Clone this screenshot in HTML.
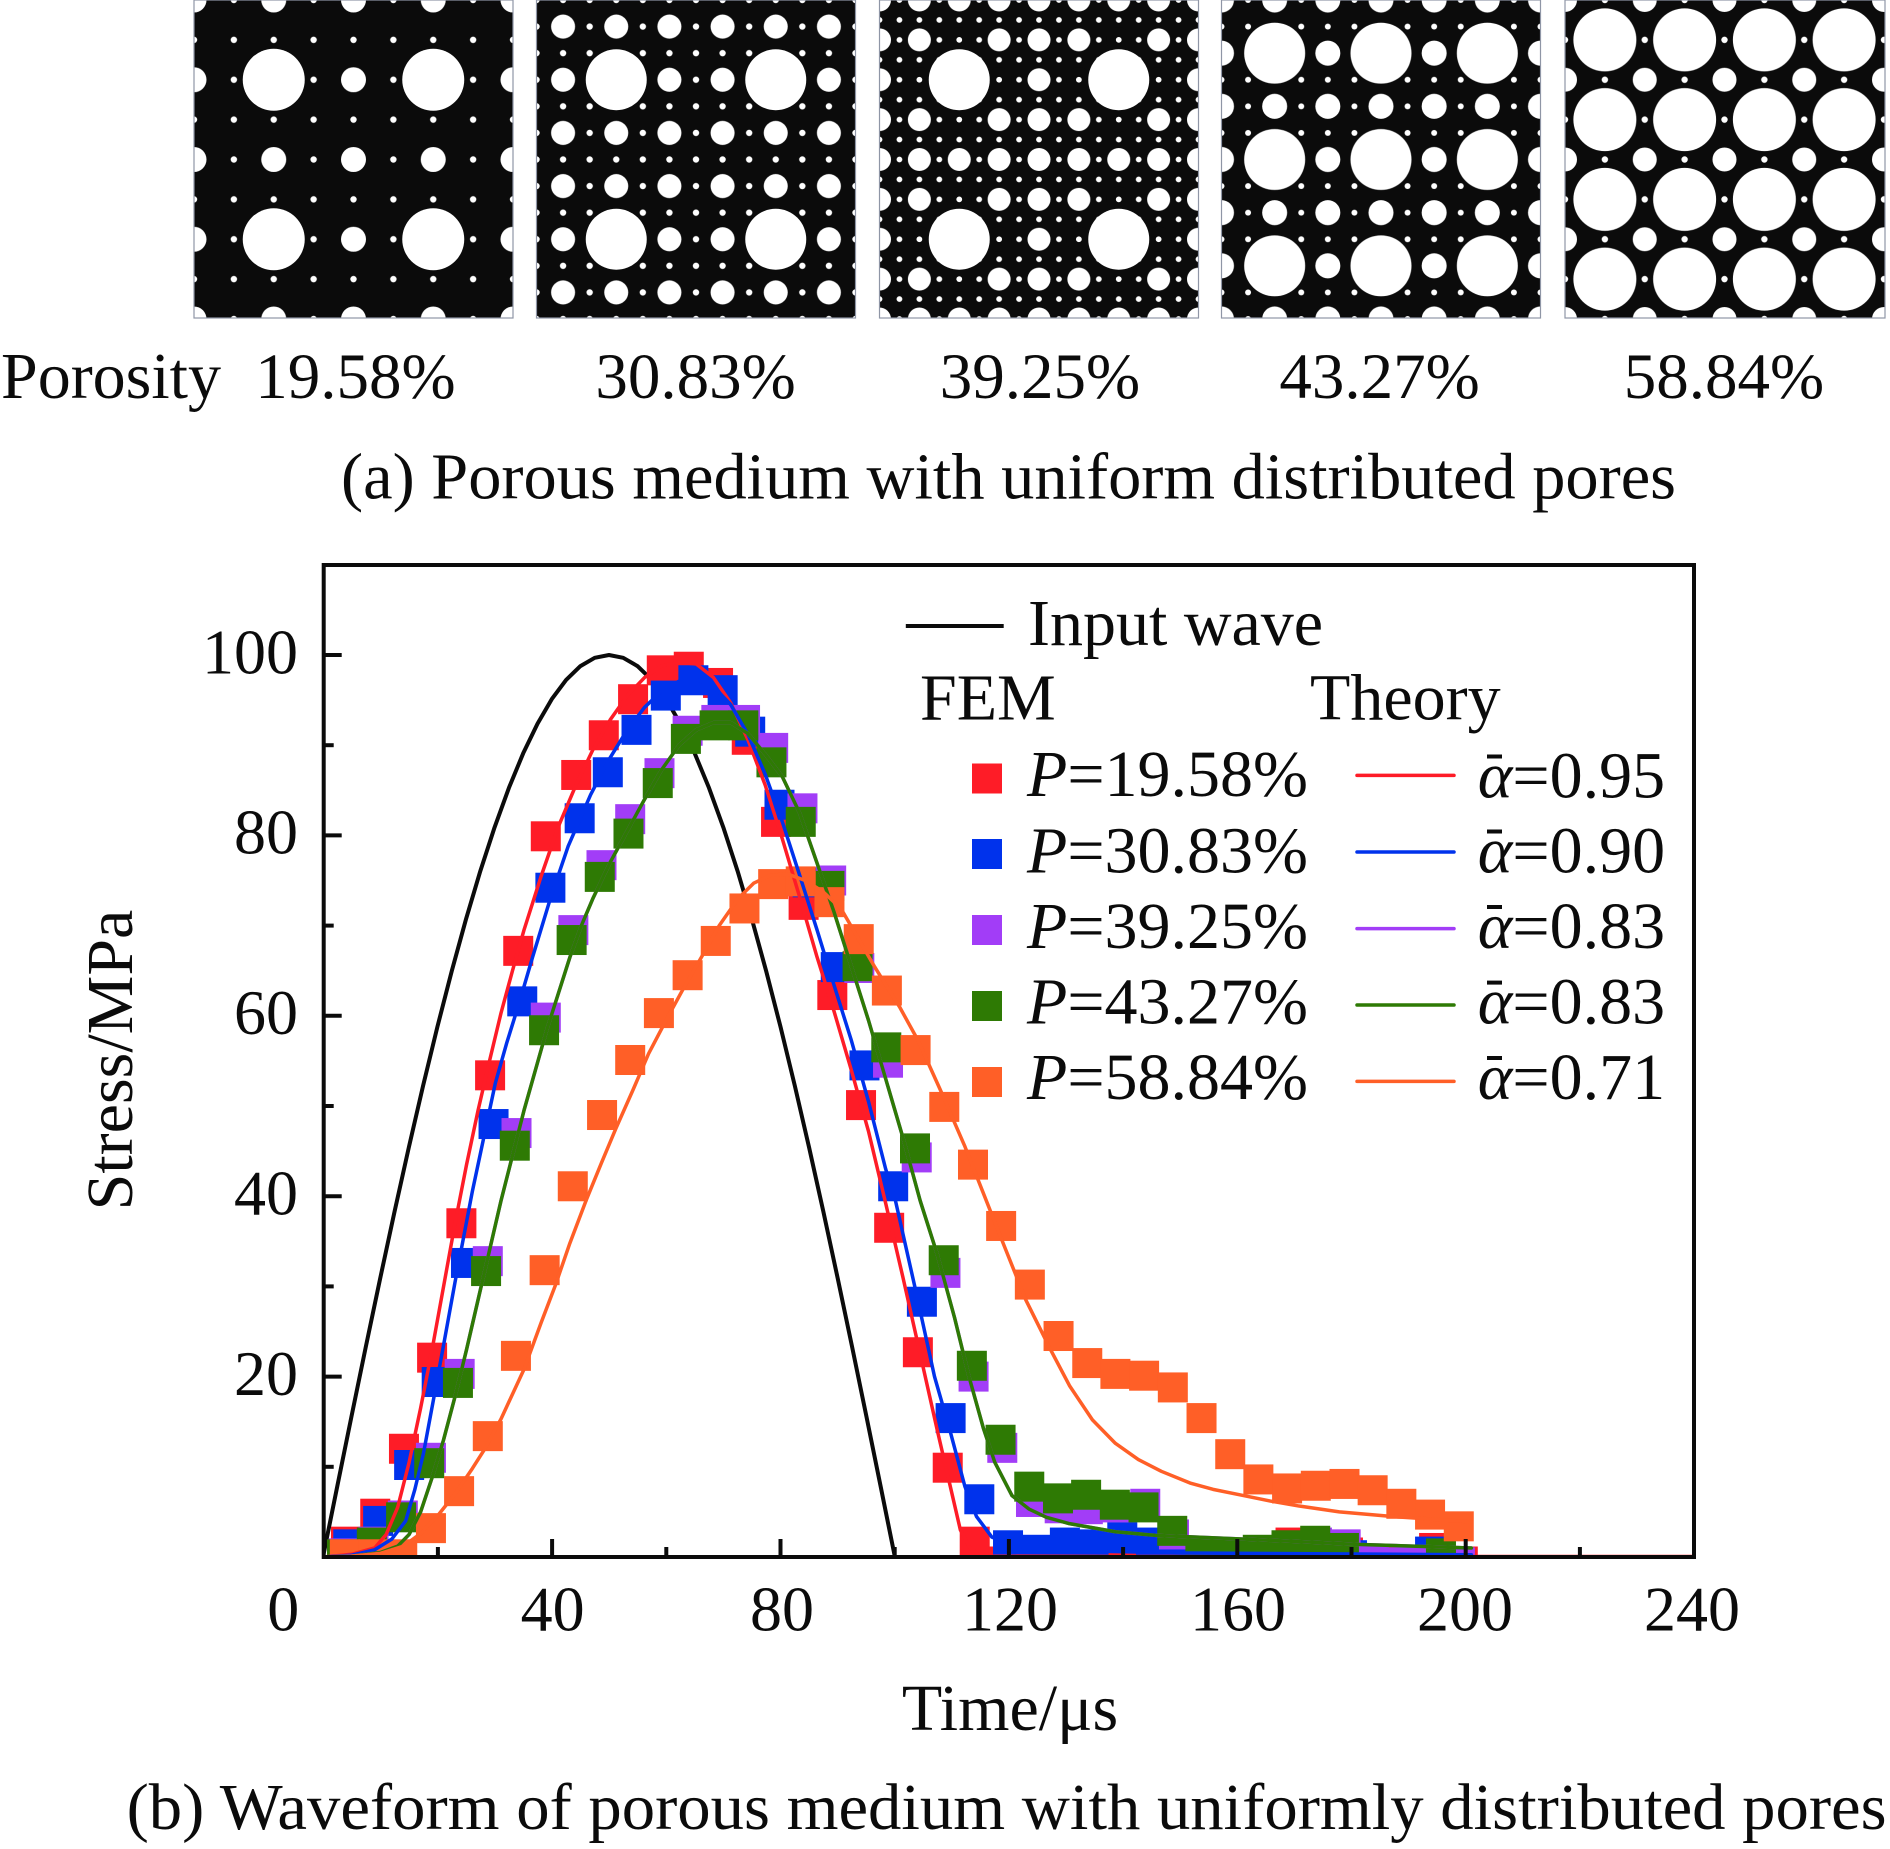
<!DOCTYPE html>
<html>
<head>
<meta charset="utf-8">
<style>
html,body{margin:0;padding:0;background:#fff;}
svg{display:block;}
text{font-family:"Liberation Serif","Times New Roman",serif;fill:#0b0b0b;}
</style>
</head>
<body>
<svg xmlns="http://www.w3.org/2000/svg" width="1890" height="1849" viewBox="0 0 1890 1849">
<defs>
  <pattern id="d1" patternUnits="userSpaceOnUse" x="174.0625" y="-19.9375" width="39.875" height="39.875"><circle cx="19.9375" cy="19.9375" r="3.2" fill="#fff"/></pattern>
  <pattern id="m1" patternUnits="userSpaceOnUse" x="154.125" y="-39.875" width="79.75" height="79.75"><circle cx="39.875" cy="39.875" r="12.5" fill="#fff"/></pattern>
  <pattern id="d2" patternUnits="userSpaceOnUse" x="523.21" y="-13.29" width="26.583" height="26.583"><circle cx="13.29" cy="13.29" r="3.2" fill="#fff"/></pattern>
  <pattern id="m2" patternUnits="userSpaceOnUse" x="536.5" y="0" width="53.167" height="53.167"><circle cx="26.583" cy="26.583" r="12" fill="#fff"/></pattern>
  <pattern id="d3" patternUnits="userSpaceOnUse" x="869.53" y="-9.969" width="19.9375" height="19.9375"><circle cx="9.969" cy="9.969" r="2.9" fill="#fff"/></pattern>
  <pattern id="m3" patternUnits="userSpaceOnUse" x="859.5625" y="-19.9375" width="39.875" height="39.875"><circle cx="19.9375" cy="19.9375" r="11.5" fill="#fff"/></pattern>
  <pattern id="d4" patternUnits="userSpaceOnUse" x="1208.21" y="-13.29" width="26.583" height="26.583"><circle cx="13.29" cy="13.29" r="3" fill="#fff"/></pattern>
  <pattern id="m4" patternUnits="userSpaceOnUse" x="1194.917" y="-26.583" width="53.167" height="53.167"><circle cx="26.583" cy="26.583" r="12.5" fill="#fff"/></pattern>
  <pattern id="l4" patternUnits="userSpaceOnUse" x="1221.5" y="0" width="106.333" height="106.333"><circle cx="53.167" cy="53.167" r="30.5" fill="#fff"/></pattern>
  <pattern id="d5" patternUnits="userSpaceOnUse" x="1545.06" y="-19.94" width="39.875" height="39.875"><circle cx="19.94" cy="19.94" r="3.2" fill="#fff"/></pattern>
  <pattern id="m5" patternUnits="userSpaceOnUse" x="1525.125" y="-39.875" width="79.75" height="79.75"><circle cx="39.875" cy="39.875" r="12" fill="#fff"/></pattern>
  <pattern id="l5" patternUnits="userSpaceOnUse" x="1565" y="0" width="79.75" height="79.75"><circle cx="39.875" cy="39.875" r="31.5" fill="#fff"/></pattern>

  <clipPath id="c1"><rect x="194" y="0" width="319" height="318"/></clipPath>
  <clipPath id="c2"><rect x="536.5" y="0" width="319" height="318"/></clipPath>
  <clipPath id="c3"><rect x="879.5" y="0" width="319" height="318"/></clipPath>
  <clipPath id="c4"><rect x="1221.5" y="0" width="319" height="318"/></clipPath>
  <clipPath id="c5"><rect x="1565" y="0" width="320" height="318"/></clipPath>

  <clipPath id="pc" clipPathUnits="userSpaceOnUse"><rect x="323.7" y="565" width="1370.3" height="992"/></clipPath>
  <rect id="sq" x="-2.612" y="-1.663" width="5.225" height="3.326"/>
</defs>

<!-- ============ Panels (a) ============ -->
<g clip-path="url(#c1)">
  <rect x="194" y="0" width="319" height="318" fill="#0b0b0b"/>
  <rect x="194" y="0" width="319" height="318" fill="url(#d1)"/>
  <rect x="194" y="0" width="319" height="318" fill="url(#m1)"/>
  <g fill="#fff">
    <circle cx="273.75" cy="79.75" r="31"/><circle cx="433.25" cy="79.75" r="31"/>
    <circle cx="273.75" cy="239.25" r="31"/><circle cx="433.25" cy="239.25" r="31"/>
  </g>
</g>
<rect x="194" y="0" width="319" height="318" fill="none" stroke="#8f96a6" stroke-width="1.2"/>

<g clip-path="url(#c2)">
  <rect x="536.5" y="0" width="319" height="318" fill="#0b0b0b"/>
  <rect x="536.5" y="0" width="319" height="318" fill="url(#d2)"/>
  <rect x="536.5" y="0" width="319" height="318" fill="url(#m2)"/>
  <g fill="#fff">
    <circle cx="616.25" cy="79.75" r="30.5"/><circle cx="775.75" cy="79.75" r="30.5"/>
    <circle cx="616.25" cy="239.25" r="30.5"/><circle cx="775.75" cy="239.25" r="30.5"/>
  </g>
</g>
<rect x="536.5" y="0" width="319" height="318" fill="none" stroke="#8f96a6" stroke-width="1.2"/>

<g clip-path="url(#c3)">
  <rect x="879.5" y="0" width="319" height="318" fill="#0b0b0b"/>
  <rect x="879.5" y="0" width="319" height="318" fill="url(#d3)"/>
  <rect x="879.5" y="0" width="319" height="318" fill="url(#m3)"/>
  <g fill="#0b0b0b">
    <circle cx="919.375" cy="79.75" r="12.6"/><circle cx="999.125" cy="79.75" r="12.6"/><circle cx="959.25" cy="39.875" r="12.6"/><circle cx="959.25" cy="119.625" r="12.6"/>
    <circle cx="1078.875" cy="79.75" r="12.6"/><circle cx="1158.625" cy="79.75" r="12.6"/><circle cx="1118.75" cy="39.875" r="12.6"/><circle cx="1118.75" cy="119.625" r="12.6"/>
    <circle cx="919.375" cy="239.25" r="12.6"/><circle cx="999.125" cy="239.25" r="12.6"/><circle cx="959.25" cy="199.375" r="12.6"/><circle cx="959.25" cy="279.125" r="12.6"/>
    <circle cx="1078.875" cy="239.25" r="12.6"/><circle cx="1158.625" cy="239.25" r="12.6"/><circle cx="1118.75" cy="199.375" r="12.6"/><circle cx="1118.75" cy="279.125" r="12.6"/>
  </g>
  <g fill="#fff">
    <circle cx="919.375" cy="79.75" r="2.9"/><circle cx="999.125" cy="79.75" r="2.9"/><circle cx="959.25" cy="39.875" r="2.9"/><circle cx="959.25" cy="119.625" r="2.9"/>
    <circle cx="1078.875" cy="79.75" r="2.9"/><circle cx="1158.625" cy="79.75" r="2.9"/><circle cx="1118.75" cy="39.875" r="2.9"/><circle cx="1118.75" cy="119.625" r="2.9"/>
    <circle cx="919.375" cy="239.25" r="2.9"/><circle cx="999.125" cy="239.25" r="2.9"/><circle cx="959.25" cy="199.375" r="2.9"/><circle cx="959.25" cy="279.125" r="2.9"/>
    <circle cx="1078.875" cy="239.25" r="2.9"/><circle cx="1158.625" cy="239.25" r="2.9"/><circle cx="1118.75" cy="199.375" r="2.9"/><circle cx="1118.75" cy="279.125" r="2.9"/>
    <circle cx="959.25" cy="79.75" r="30.5"/><circle cx="1118.75" cy="79.75" r="30.5"/>
    <circle cx="959.25" cy="239.25" r="30.5"/><circle cx="1118.75" cy="239.25" r="30.5"/>
  </g>
</g>
<rect x="879.5" y="0" width="319" height="318" fill="none" stroke="#8f96a6" stroke-width="1.2"/>

<g clip-path="url(#c4)">
  <rect x="1221.5" y="0" width="319" height="318" fill="#0b0b0b"/>
  <rect x="1221.5" y="0" width="319" height="318" fill="url(#d4)"/>
  <rect x="1221.5" y="0" width="319" height="318" fill="url(#m4)"/>
  <rect x="1221.5" y="0" width="319" height="318" fill="url(#l4)"/>
</g>
<rect x="1221.5" y="0" width="319" height="318" fill="none" stroke="#8f96a6" stroke-width="1.2"/>

<g clip-path="url(#c5)">
  <rect x="1565" y="0" width="320" height="318" fill="#0b0b0b"/>
  <rect x="1565" y="0" width="320" height="318" fill="url(#d5)"/>
  <rect x="1565" y="0" width="320" height="318" fill="url(#m5)"/>
  <rect x="1565" y="0" width="320" height="318" fill="url(#l5)"/>
</g>
<rect x="1565" y="0" width="320" height="318" fill="none" stroke="#8f96a6" stroke-width="1.2"/>

<!-- Porosity labels -->
<text x="1" y="398" font-size="66" textLength="220" lengthAdjust="spacingAndGlyphs">Porosity</text>
<g font-size="65" text-anchor="middle">
  <text x="355.5" y="398">19.58%</text>
  <text x="695.6" y="398">30.83%</text>
  <text x="1040" y="398">39.25%</text>
  <text x="1379.6" y="398">43.27%</text>
  <text x="1724" y="398">58.84%</text>
</g>
<text x="341" y="498.5" font-size="66" textLength="1335" lengthAdjust="spacingAndGlyphs">(a) Porous medium with uniform distributed pores</text>

<!-- ============ Chart (b) ============ -->
<g clip-path="url(#pc)">
  <polyline fill="none" stroke="#0b0b0b" stroke-width="4" stroke-linejoin="round" points="323,1557 337.3,1486.2 351.6,1415.9 365.9,1346.4 380.2,1278.3 394.5,1211.8 408.8,1147.5 423.1,1085.7 437.4,1026.8 451.7,971.2 466,919.2 480.3,871.1 494.6,827.3 508.9,787.9 523.2,753.3 537.5,723.7 551.8,699.1 566.1,679.9 580.4,666.1 594.7,657.8 609,655 623.2,657.8 637.5,666.1 651.8,679.9 666.1,699.1 680.4,723.7 694.7,753.3 709,787.9 723.3,827.3 737.6,871.1 751.9,919.2 766.2,971.2 780.5,1026.8 794.8,1085.7 809.1,1147.5 823.4,1211.8 837.7,1278.3 852,1346.4 866.3,1415.9 880.6,1486.2 894.9,1557"/>

  <g transform="matrix(5.742 0 0 -9.02 323 1557)">
    <g fill="#FE1C27">
      <use href="#sq" x="4" y="1.7"/><use href="#sq" x="9.1" y="4.8"/><use href="#sq" x="14.1" y="12"/><use href="#sq" x="19" y="22.1"/><use href="#sq" x="24.1" y="37"/><use href="#sq" x="29.1" y="53.4"/><use href="#sq" x="34" y="67.2"/><use href="#sq" x="38.8" y="79.9"/><use href="#sq" x="44.1" y="86.7"/><use href="#sq" x="48.9" y="91.1"/><use href="#sq" x="54" y="95.1"/><use href="#sq" x="59" y="98.3"/><use href="#sq" x="63.7" y="98.7"/><use href="#sq" x="68.8" y="96.9"/><use href="#sq" x="73.8" y="90.6"/><use href="#sq" x="78.9" y="81.5"/><use href="#sq" x="83.7" y="72.3"/><use href="#sq" x="88.7" y="62.3"/><use href="#sq" x="93.7" y="50.1"/><use href="#sq" x="98.6" y="36.5"/><use href="#sq" x="103.6" y="22.7"/><use href="#sq" x="108.8" y="9.9"/><use href="#sq" x="113.5" y="1.7"/><use href="#sq" x="118.5" y="-0.5"/><use href="#sq" x="123.5" y="-0.8"/><use href="#sq" x="128.5" y="-0.8"/><use href="#sq" x="133.5" y="-0.8"/><use href="#sq" x="138.5" y="-0.8"/><use href="#sq" x="143.5" y="-0.8"/><use href="#sq" x="148.5" y="-0.8"/><use href="#sq" x="153.5" y="-0.8"/><use href="#sq" x="158.5" y="-0.5"/><use href="#sq" x="163.5" y="0.5"/><use href="#sq" x="168.5" y="1.6"/><use href="#sq" x="173.5" y="1.2"/><use href="#sq" x="178.5" y="0.5"/><use href="#sq" x="183.5" y="-0.5"/><use href="#sq" x="188.5" y="-0.5"/><use href="#sq" x="193.5" y="1"/><use href="#sq" x="198.5" y="-0.5"/>
    </g>
    <g fill="#0032EC">
      <use href="#sq" x="4.4" y="1.4"/><use href="#sq" x="9.6" y="4"/><use href="#sq" x="15" y="10.2"/><use href="#sq" x="19.8" y="19.4"/><use href="#sq" x="24.9" y="32.6"/><use href="#sq" x="29.7" y="48"/><use href="#sq" x="34.7" y="61.6"/><use href="#sq" x="39.6" y="74.2"/><use href="#sq" x="44.7" y="81.9"/><use href="#sq" x="49.6" y="87"/><use href="#sq" x="54.6" y="91.7"/><use href="#sq" x="59.7" y="95.5"/><use href="#sq" x="64.5" y="97.2"/><use href="#sq" x="69.6" y="96.1"/><use href="#sq" x="74.4" y="91.5"/><use href="#sq" x="79.5" y="83.4"/><use href="#sq" x="84.4" y="74.8"/><use href="#sq" x="89.3" y="65.4"/><use href="#sq" x="94.3" y="54.5"/><use href="#sq" x="99.3" y="41.1"/><use href="#sq" x="104.3" y="28.3"/><use href="#sq" x="109.3" y="15.4"/><use href="#sq" x="114.3" y="6.4"/><use href="#sq" x="119.3" y="1.3"/><use href="#sq" x="124.2" y="0.8"/><use href="#sq" x="129.2" y="1.6"/><use href="#sq" x="134.2" y="1.4"/><use href="#sq" x="139.2" y="2.2"/><use href="#sq" x="144.2" y="1.6"/><use href="#sq" x="149.2" y="0"/><use href="#sq" x="154.2" y="-0.6"/><use href="#sq" x="159.2" y="-0.6"/><use href="#sq" x="164.2" y="-0.4"/><use href="#sq" x="169.2" y="0.2"/><use href="#sq" x="174.2" y="1.2"/><use href="#sq" x="179.2" y="0.2"/><use href="#sq" x="184.2" y="-0.9"/><use href="#sq" x="189.2" y="-0.9"/><use href="#sq" x="192.8" y="0.6"/><use href="#sq" x="197.5" y="-0.6"/>
    </g>
    <g fill="#A23DF7">
      <use href="#sq" x="3.6" y="0.4"/><use href="#sq" x="8.8" y="1.7"/><use href="#sq" x="13.9" y="4.6"/><use href="#sq" x="18.8" y="11"/><use href="#sq" x="23.8" y="20.3"/><use href="#sq" x="28.7" y="32.8"/><use href="#sq" x="33.7" y="47"/><use href="#sq" x="38.8" y="59.8"/><use href="#sq" x="43.6" y="69.5"/><use href="#sq" x="48.5" y="76.7"/><use href="#sq" x="53.5" y="81.8"/><use href="#sq" x="58.6" y="86.9"/><use href="#sq" x="63.5" y="91.6"/><use href="#sq" x="68.5" y="92.8"/><use href="#sq" x="73.5" y="92.8"/><use href="#sq" x="78.4" y="89.7"/><use href="#sq" x="83.5" y="83"/><use href="#sq" x="88.5" y="75"/><use href="#sq" x="93.4" y="65.3"/><use href="#sq" x="98.4" y="54.8"/><use href="#sq" x="103.4" y="44.3"/><use href="#sq" x="108.4" y="31.5"/><use href="#sq" x="113.3" y="20"/><use href="#sq" x="118.3" y="12.1"/><use href="#sq" x="123.3" y="6.1"/><use href="#sq" x="128.3" y="5.4"/><use href="#sq" x="133.2" y="5.3"/><use href="#sq" x="138.2" y="5.5"/><use href="#sq" x="143.2" y="5.9"/><use href="#sq" x="148.2" y="2.5"/><use href="#sq" x="153.1" y="0.5"/><use href="#sq" x="158.1" y="0.2"/><use href="#sq" x="163.1" y="0.6"/><use href="#sq" x="168.1" y="1.2"/><use href="#sq" x="173.1" y="1.6"/><use href="#sq" x="178.1" y="1.4"/><use href="#sq" x="183" y="-0.4"/><use href="#sq" x="188" y="-0.6"/><use href="#sq" x="193" y="-0.4"/><use href="#sq" x="198" y="-0.6"/>
    </g>
    <g fill="#2E7A04">
      <use href="#sq" x="3.3" y="0.3"/><use href="#sq" x="8.5" y="1.6"/><use href="#sq" x="13.6" y="4.4"/><use href="#sq" x="18.5" y="10.4"/><use href="#sq" x="23.5" y="19.3"/><use href="#sq" x="28.4" y="31.7"/><use href="#sq" x="33.4" y="45.6"/><use href="#sq" x="38.5" y="58.4"/><use href="#sq" x="43.3" y="68.4"/><use href="#sq" x="48.2" y="75.4"/><use href="#sq" x="53.2" y="80.2"/><use href="#sq" x="58.3" y="85.8"/><use href="#sq" x="63.2" y="90.7"/><use href="#sq" x="68.2" y="92.2"/><use href="#sq" x="73.2" y="92.2"/><use href="#sq" x="78.1" y="88.1"/><use href="#sq" x="83.2" y="81.5"/><use href="#sq" x="88.2" y="74.4"/><use href="#sq" x="93.1" y="65.5"/><use href="#sq" x="98.1" y="56.5"/><use href="#sq" x="103.1" y="45.3"/><use href="#sq" x="108.1" y="32.9"/><use href="#sq" x="113" y="21.2"/><use href="#sq" x="118" y="13"/><use href="#sq" x="123" y="7.8"/><use href="#sq" x="128" y="6.5"/><use href="#sq" x="132.9" y="6.9"/><use href="#sq" x="137.9" y="5.8"/><use href="#sq" x="142.9" y="5.5"/><use href="#sq" x="147.9" y="2.9"/><use href="#sq" x="152.8" y="0.6"/><use href="#sq" x="157.8" y="0.4"/><use href="#sq" x="162.8" y="0.8"/><use href="#sq" x="167.8" y="1.3"/><use href="#sq" x="172.8" y="1.8"/><use href="#sq" x="177.8" y="1"/><use href="#sq" x="194.7" y="0.4"/>
    </g>
    <g fill="#FF5F27">
      <use href="#sq" x="3.8" y="0.3"/><use href="#sq" x="8.8" y="0.3"/><use href="#sq" x="13.8" y="0.3"/><use href="#sq" x="18.8" y="3.2"/><use href="#sq" x="23.7" y="7.3"/><use href="#sq" x="28.7" y="13.4"/><use href="#sq" x="33.6" y="22.3"/><use href="#sq" x="38.6" y="31.8"/><use href="#sq" x="43.5" y="41.1"/><use href="#sq" x="48.6" y="49"/><use href="#sq" x="53.5" y="55.1"/><use href="#sq" x="58.5" y="60.3"/><use href="#sq" x="63.5" y="64.5"/><use href="#sq" x="68.4" y="68.3"/><use href="#sq" x="73.4" y="71.9"/><use href="#sq" x="78.4" y="74.6"/><use href="#sq" x="83.2" y="74.9"/><use href="#sq" x="88.2" y="72.6"/><use href="#sq" x="93.3" y="68.5"/><use href="#sq" x="98.2" y="62.8"/><use href="#sq" x="103.2" y="56.2"/><use href="#sq" x="108.2" y="49.9"/><use href="#sq" x="113.2" y="43.5"/><use href="#sq" x="118.1" y="36.7"/><use href="#sq" x="123.1" y="30.2"/><use href="#sq" x="128.1" y="24.5"/><use href="#sq" x="133.1" y="21.5"/><use href="#sq" x="138" y="20.3"/><use href="#sq" x="143" y="20.1"/><use href="#sq" x="148" y="18.8"/><use href="#sq" x="153" y="15.4"/><use href="#sq" x="158" y="11.4"/><use href="#sq" x="162.9" y="8.6"/><use href="#sq" x="167.9" y="7.6"/><use href="#sq" x="172.9" y="7.9"/><use href="#sq" x="177.9" y="8.1"/><use href="#sq" x="182.8" y="7.4"/><use href="#sq" x="187.8" y="5.9"/><use href="#sq" x="192.8" y="4.7"/><use href="#sq" x="197.8" y="3.4"/>
    </g>

    <g fill="none" stroke-width="3.5" stroke-linejoin="round" stroke-linecap="round">
      <polyline vector-effect="non-scaling-stroke" stroke="#FE1C27" points="0,0 5,0.3 9,1 11,2.5 13,5.5 15,10.5 17,16.5 19,23 21,30 23,37 25,43.5 27,49.5 29,55 31,60.3 33,65 35,69.5 38,75.5 41,81 44,85.5 47,89.5 50,92.8 53,95.5 56,97.5 59,98.8 62,99.2 65,99 68,97.5 71,94.7 74,90.6 77,85.6 80,79.6 83,73.2 86,66.6 89,60.5 92,54 95,47.2 98,39.2 101,31 104,22.5 107,14 109,8.5 111,3 112.5,1.2 114,0.3 116,0.1 140,0.05 238.8,0.05"/>
      <polyline vector-effect="non-scaling-stroke" stroke="#0032EC" points="0,0 5,0.2 9,0.8 12,2 14.4,4 16,7.5 17.5,11.5 19.4,18 21,23.5 23,30.5 26,40.5 28,46.5 30,52.5 32,57 34.2,61.5 36.5,66.5 39.6,73 42.7,78.8 46.6,84.5 49.7,88.3 52.8,91.5 56,94.2 59,96 62,97.1 65,97.3 68,96.5 71,94.5 74,91.2 77,86.8 80,81.5 83,75.6 86,69.6 89,63.4 92,57.3 95,50.5 98,43 99.7,39.5 103.2,29.6 106.5,20 109.2,14 111.8,7.8 113.8,4.5 116.5,2.2 120,1.3 125,0.9 130,0.7 150,0.45 200,0.25"/>
      <polyline vector-effect="non-scaling-stroke" stroke="#A23DF7" points="0,0 5,0.1 10,0.5 13,1.2 15,2.5 17,5 19,8.8 21,13 23,17.8 25,23 27,28.5 29,34 31,39.5 33,44.5 35,49.5 37,54 39,58.5 41,62.5 43,66.5 45,70 47,73 50,77 53,80.5 56,84 59,87.3 62,90 65,91.7 68,92.5 71,92.5 74,91.3 77,89 80,86.5 83,82.5 86,77 89,71.5 92,65.5 95,59.5 98,53 101,46.5 104,39.5 107,33.5 110,26.5 112.5,20 115,14.3 117,10.5 120,6.8 123,5.3 126,4.4 130,3.7 138,2.8 145,2.4 160,2 180,1.4 200,1"/>
      <polyline vector-effect="non-scaling-stroke" stroke="#2E7A04" points="0,0 5,0.1 10,0.5 13,1.2 15,2.5 17,5 19,8.8 21,13 23,17.8 25,23 27,28.5 29,34 31,39.5 33,44.5 35,49.5 37,54 39,58.5 41,62.5 43,66.5 45,70 47,73 50,77 53,80.5 56,84 59,87.3 62,90 65,91.7 68,92.5 71,92.5 74,91.3 77,89 80,86.5 83,82.5 86,77 89,71.5 92,65.5 95,59.5 98,53 101,46.5 104,39.5 107,33.5 110,26.5 112.5,20 115,14.3 117,10.5 120,6.8 123,5.3 126,4.4 130,3.7 138,2.8 145,2.4 160,2 180,1.4 200,1"/>
      <polyline vector-effect="non-scaling-stroke" stroke="#FF5F27" points="0,0 5,0.1 10,0.4 14,1.2 17,2.6 20,4.6 23,7 26,9.8 28,11.8 31,15.3 35,20.8 38,26 40.4,30 43,34.8 45.8,39.5 48.5,43.7 51,47.5 54,51.8 56.7,55.8 60,59.8 63,63.3 66,66.6 69,70 72.3,73 75,74.7 78,75.6 81,75.7 84,75 87,73.8 90.2,71.9 93,68.8 96.1,65.4 100.4,61 103.6,57.3 107.5,51.8 111.8,45.5 114.9,40.5 118,35.5 122.4,28.5 126.7,23 130,19 134,15.2 138,12.6 142,10.8 146,9.5 151,8.2 155,7.5 160,6.85 165,6.2 170,5.65 177,5 186,4.5 193,4.2 200,3.9"/>
    </g>
  </g>
</g>

<!-- Axes box -->
<rect x="323.7" y="565" width="1370.3" height="992" fill="none" stroke="#0b0b0b" stroke-width="4"/>
<g stroke="#0b0b0b" stroke-width="4">
  <line x1="323.7" y1="1376.6" x2="341.7" y2="1376.6"/>
  <line x1="323.7" y1="1196.2" x2="341.7" y2="1196.2"/>
  <line x1="323.7" y1="1015.8" x2="341.7" y2="1015.8"/>
  <line x1="323.7" y1="835.4" x2="341.7" y2="835.4"/>
  <line x1="323.7" y1="655" x2="341.7" y2="655"/>
  <line x1="323.7" y1="1466.8" x2="333.7" y2="1466.8"/>
  <line x1="323.7" y1="1286.4" x2="333.7" y2="1286.4"/>
  <line x1="323.7" y1="1106" x2="333.7" y2="1106"/>
  <line x1="323.7" y1="925.6" x2="333.7" y2="925.6"/>
  <line x1="323.7" y1="745.2" x2="333.7" y2="745.2"/>
  <line x1="552.1" y1="1557" x2="552.1" y2="1539"/>
  <line x1="780.5" y1="1557" x2="780.5" y2="1539"/>
  <line x1="1008.9" y1="1557" x2="1008.9" y2="1539"/>
  <line x1="1237.3" y1="1557" x2="1237.3" y2="1539"/>
  <line x1="1465.7" y1="1557" x2="1465.7" y2="1539"/>
  <line x1="437.9" y1="1557" x2="437.9" y2="1547"/>
  <line x1="666.3" y1="1557" x2="666.3" y2="1547"/>
  <line x1="894.7" y1="1557" x2="894.7" y2="1547"/>
  <line x1="1123.1" y1="1557" x2="1123.1" y2="1547"/>
  <line x1="1351.5" y1="1557" x2="1351.5" y2="1547"/>
  <line x1="1579.9" y1="1557" x2="1579.9" y2="1547"/>
</g>

<g font-size="64" text-anchor="end">
  <text x="298" y="673.3">100</text>
  <text x="298" y="853.7">80</text>
  <text x="298" y="1034.1">60</text>
  <text x="298" y="1214.5">40</text>
  <text x="298" y="1394.9">20</text>
</g>
<g font-size="64" text-anchor="middle">
  <text x="283.3" y="1630.5">0</text>
  <text x="552.6" y="1630.5">40</text>
  <text x="782" y="1630.5">80</text>
  <text x="1010" y="1630.5">120</text>
  <text x="1238" y="1630.5">160</text>
  <text x="1465" y="1630.5">200</text>
  <text x="1692" y="1630.5">240</text>
</g>

<text x="1010" y="1730" font-size="66" text-anchor="middle">Time/μs</text>
<text transform="translate(132,1060) rotate(-90)" font-size="66" text-anchor="middle">Stress/MPa</text>

<!-- Legend -->
<line x1="905.8" y1="626" x2="1003.7" y2="626" stroke="#0b0b0b" stroke-width="4"/>
<text x="1028" y="645" font-size="66">Input wave</text>
<text x="920" y="719.6" font-size="66">FEM</text>
<text x="1310" y="719.6" font-size="66">Theory</text>

<rect x="972" y="763.5" width="30" height="30" fill="#FE1C27"/>
<rect x="972" y="839" width="30" height="30" fill="#0032EC"/>
<rect x="972" y="915" width="30" height="30" fill="#A23DF7"/>
<rect x="972" y="991" width="30" height="30" fill="#2E7A04"/>
<rect x="972" y="1067" width="30" height="30" fill="#FF5F27"/>

<g font-size="66">
  <text x="1027" y="796"><tspan font-style="italic">P</tspan>=19.58%</text>
  <text x="1027" y="872.5"><tspan font-style="italic">P</tspan>=30.83%</text>
  <text x="1027" y="948"><tspan font-style="italic">P</tspan>=39.25%</text>
  <text x="1027" y="1023.6"><tspan font-style="italic">P</tspan>=43.27%</text>
  <text x="1027" y="1099"><tspan font-style="italic">P</tspan>=58.84%</text>
</g>

<g stroke-width="3.5" stroke-linecap="round">
  <line x1="1357" y1="775.4" x2="1454" y2="775.4" stroke="#FE1C27"/>
  <line x1="1357" y1="852" x2="1454" y2="852" stroke="#0032EC"/>
  <line x1="1357" y1="928.6" x2="1454" y2="928.6" stroke="#A23DF7"/>
  <line x1="1357" y1="1005" x2="1454" y2="1005" stroke="#2E7A04"/>
  <line x1="1357" y1="1081.4" x2="1454" y2="1081.4" stroke="#FF5F27"/>
</g>

<g font-size="66">
  <text x="1477.7" y="797.5"><tspan font-style="italic">α</tspan>=0.95</text>
  <text x="1477.7" y="872.5"><tspan font-style="italic">α</tspan>=0.90</text>
  <text x="1477.7" y="948"><tspan font-style="italic">α</tspan>=0.83</text>
  <text x="1477.7" y="1023.6"><tspan font-style="italic">α</tspan>=0.83</text>
  <text x="1477.7" y="1099"><tspan font-style="italic">α</tspan>=0.71</text>
</g>
<g fill="#0b0b0b">
  <rect x="1487" y="754.5" width="15" height="4"/>
  <rect x="1487" y="829.5" width="15" height="4"/>
  <rect x="1487" y="905" width="15" height="4"/>
  <rect x="1487" y="980.6" width="15" height="4"/>
  <rect x="1487" y="1056" width="15" height="4"/>
</g>

<text x="126.6" y="1829" font-size="66" textLength="1760" lengthAdjust="spacingAndGlyphs">(b) Waveform of porous medium with uniformly distributed pores</text>
</svg>
</body>
</html>
